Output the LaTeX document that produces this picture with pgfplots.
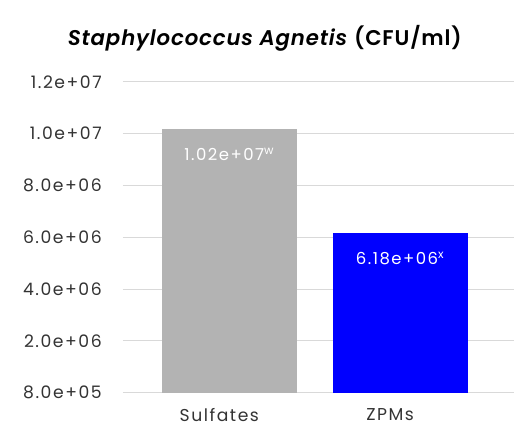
\documentclass[border=0pt]{standalone}
\usepackage{pgfplots}
\pgfplotsset{compat=1.18}
\usepackage{fontspec}
\setmainfont{Poppins}[BoldFont={Poppins SemiBold}, BoldItalicFont={Poppins SemiBold Italic}]
\definecolor{txt}{HTML}{333333}
\definecolor{gridc}{HTML}{D9D9D9}
\definecolor{barA}{HTML}{B3B3B3}
\definecolor{barB}{HTML}{0000FF}
\newcommand{\lab}{\fontsize{17.2}{20}\selectfont\addfontfeature{LetterSpace=9}}
\newcommand{\blab}{\fontsize{16.5}{19}\selectfont\addfontfeature{LetterSpace=9}}
\begin{document}
\begin{tikzpicture}
\begin{axis}[
  at={(0,0)}, anchor=south west,
  scale only axis, width=391pt, height=311pt,
  xmin=-0.623, xmax=1.664,
  ymin=0, ymax=1.2e7,
  scaled y ticks=false,
  axis line style={draw=none},
  ytick={0,2e6,4e6,6e6,8e6,1e7,1.2e7},
  yticklabels={8.0e+05,2.0e+06,4.0e+06,6.0e+06,8.0e+06,1.0e+07,1.2e+07},
  xtick={0,1}, xticklabels={Sulfates,ZPMs},
  major tick length=0pt,
  ymajorgrids, grid style={gridc, line width=1pt},
  yticklabel style={anchor=east, inner sep=0pt, xshift=-21pt, font=\lab, text=txt},
  xticklabel style={anchor=center, inner sep=0pt, yshift=-22pt, xshift=-10pt, font=\lab, text=txt},
  ybar, bar width=135pt, bar shift=0pt,
  clip=false,
]
\addplot[fill=barA, draw=none] coordinates {(0,1.02e7)};
\addplot[fill=barB, draw=none] coordinates {(1,6.18e6)};
\node[text=white, font=\blab, anchor=center] at (axis cs:0,1.02e7) [yshift=-26pt] {1.02e+07\textsuperscript{w}};
\node[text=white, font=\blab, anchor=center] at (axis cs:1,6.18e6) [yshift=-26pt] {6.18e+06\textsuperscript{x}};
\end{axis}
\node[text=black, font=\fontsize{21.3}{25}\selectfont\bfseries\addfontfeature{LetterSpace=4}, anchor=center] at (142pt,355pt) {\textit{Staphylococcus Agnetis} (CFU/ml)};
\path[use as bounding box] (-123pt,-33pt) rectangle (391pt,393pt);
\end{tikzpicture}
\end{document}
